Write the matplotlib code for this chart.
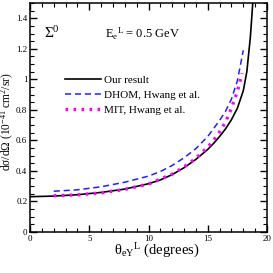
import matplotlib
matplotlib.use('Agg')
import matplotlib.pyplot as plt
from matplotlib.ticker import MultipleLocator

plt.rcParams['font.family'] = ['Liberation Serif', 'DejaVu Serif']
plt.rcParams['mathtext.fontset'] = 'custom'
plt.rcParams['mathtext.rm'] = 'Liberation Serif'
plt.rcParams['mathtext.it'] = 'Liberation Serif'

# Our result (black solid)
x_ours = [0, 2, 4, 6, 8, 10, 11, 12, 13, 14, 15, 15.5, 16, 16.5, 17, 17.5, 18, 18.3, 18.6, 18.8]
y_ours = [0.230, 0.234, 0.243, 0.258, 0.280, 0.315, 0.340, 0.375, 0.420, 0.475, 0.540,
          0.580, 0.625, 0.675, 0.735, 0.810, 0.925, 1.05, 1.28, 1.50]

# DHOM, Hwang et al. (blue dashed)
x_dhom = [2, 4, 6, 8, 10, 11, 12, 13, 14, 15, 16, 16.5, 17, 17.5, 18]
y_dhom = [0.266, 0.275, 0.295, 0.325, 0.365, 0.395, 0.435, 0.485, 0.545, 0.625, 0.73,
          0.79, 0.87, 0.99, 1.19]

# MIT, Hwang et al. (magenta dotted)
x_mit = [2, 4, 6, 8, 10, 12, 13, 14, 15, 15.5, 16, 16.5, 17, 17.5, 17.9]
y_mit = [0.236, 0.242, 0.255, 0.278, 0.313, 0.378, 0.425, 0.482, 0.555, 0.60, 0.655,
         0.72, 0.81, 0.92, 1.04]

fig = plt.figure(figsize=(2.73, 2.73), dpi=100)
ax = fig.add_axes([0.11, 0.151, 0.868, 0.838])

ax.plot(x_ours, y_ours, color='black', lw=1.2, label='Our result')
ax.plot(x_dhom, y_dhom, color='#1f1fff', lw=1.1, ls=(0, (4, 2.5)), label='DHOM, Hwang et al.')
ax.plot(x_mit, y_mit, color='#ff00ff', lw=2.4, ls=(0, (0.8, 1.6)), label='MIT, Hwang et al.')

ax.set_xlim(0, 20)
ax.set_ylim(0, 1.5)
ax.xaxis.set_major_locator(MultipleLocator(5))
ax.xaxis.set_minor_locator(MultipleLocator(1))
ax.yaxis.set_minor_locator(MultipleLocator(0.05))
ax.set_yticks([0, 0.2, 0.4, 0.6, 0.8, 1, 1.2, 1.4])
ax.set_yticklabels(['0', '0.2', '0.4', '0.6', '0.8', '1', '1.2', '1.4'])
ax.tick_params(which='both', direction='in', top=True, right=True, labelsize=6.5, pad=2)
ax.tick_params(which='major', length=5, width=1)
ax.tick_params(which='minor', length=3, width=0.8)
for s in ax.spines.values():
    s.set_linewidth(1.1)

ax.set_xlabel(r'$\theta_{eY}$$^{L}$ (degrees)', fontsize=10.5)
ax.xaxis.set_label_coords(0.535, -0.045)
ax.set_ylabel(r'd$\sigma$/d$\Omega$ (10$^{-41}$ cm$^{2}$/sr)', fontsize=8.3)
ax.yaxis.set_label_coords(-0.094, 0.48)
ax.yaxis.label.set_va('center')

ax.text(1.2, 1.30, r'$\Sigma^{0}$', fontsize=11, va='center')
ax.text(6.3, 1.30, r'E$_e$$^{L}$ = 0.5 GeV', fontsize=9, va='center')

ax.legend(loc='center left', bbox_to_anchor=(0.148, 0.598), frameon=False, fontsize=8,
          handlelength=3.2, handletextpad=0.3, labelspacing=0.5, borderpad=0, borderaxespad=0)

fig.savefig('out.png', dpi=100)
